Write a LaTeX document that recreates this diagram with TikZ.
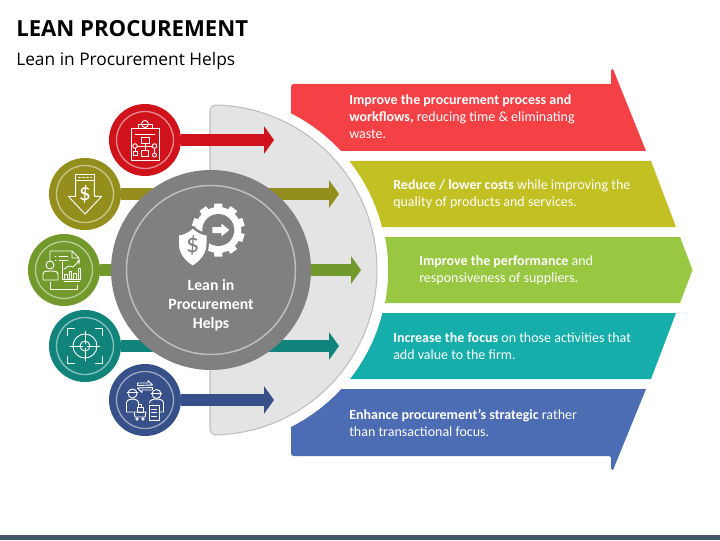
\documentclass[tikz,border=0pt]{standalone}
\usepackage{fontspec}
\setmainfont{Carlito}
\newfontfamily\headfont{Open Sans}
\usetikzlibrary{arrows.meta}

\definecolor{ring_red}{HTML}{D0121B}
\definecolor{ring_olive}{HTML}{948F1C}
\definecolor{ring_green}{HTML}{72992B}
\definecolor{ring_teal}{HTML}{10837B}
\definecolor{ring_blue}{HTML}{375089}
\definecolor{band_red}{HTML}{F34146}
\definecolor{band_olive}{HTML}{C3C024}
\definecolor{band_green}{HTML}{98C741}
\definecolor{band_teal}{HTML}{16AEAB}
\definecolor{band_blue}{HTML}{4C6CB4}
\definecolor{core_gray}{HTML}{808080}

\begin{document}
\begin{tikzpicture}[x=0.75pt,y=0.75pt,
    ring_node/.style={circle,inner sep=0pt,minimum size=54pt},
    band_text/.style={anchor=west,inner sep=0pt,align=left,text=white,font=\fontsize{10.5}{12.75}\selectfont},
    link_line/.style={line width=9pt,-{Triangle[length=7.5pt,width=20.5pt]}},
    halo_line/.style={draw=white,draw opacity=0.5,line width=1pt},
    icon_line/.style={draw=white,line width=0.7pt,line join=round,line cap=round},
    dollar_text/.style={inner sep=0pt,text=white,font=\fontsize{18}{18}\selectfont}]

    \useasboundingbox (0,0) rectangle (720,540);
    \fill[white] (0,0) rectangle (720,540);
    \fill[fill={rgb,255:red,68;green,84;blue,106}] (0,0) rectangle (720,5);

    \node[anchor=west,inner sep=0pt,font=\headfont\bfseries\fontsize{16.6}{20}\selectfont] (title) at (16,511) {LEAN PROCUREMENT};
    \node[anchor=west,inner sep=0pt,font=\headfont\fontsize{13}{15}\selectfont] (subtitle) at (16,479) {Lean in Procurement Helps};

    % half disc
    \draw[fill={rgb,255:red,228;green,228;blue,228},draw={rgb,255:red,190;green,190;blue,190},line width=0.8pt]
        (210,111) -- (210,429) arc[start angle=180,end angle=90,radius=6]
        arc[start angle=88.6,end angle=-88.6,radius=165]
        arc[start angle=270,end angle=180,radius=6] -- cycle;

    % bands
    \fill[band_red] (291,427) [rounded corners=2pt] -- (291,456) [sharp corners] -- (611,456) [rounded corners=1.2pt] -- (611,471) -- (613,471) [sharp corners] -- (646,389) -- (341,389)
        arc[start angle=42.7,end angle=63.3,radius=175.5] -- cycle;
    \fill[band_olive] (350,379) -- (651,379) -- (676,313) -- (382,313)
        arc[start angle=14.2,end angle=38.3,radius=175.5] -- cycle;
    \fill[band_green] (385,303) -- (680,303) -- (692.5,270) -- (680,237) -- (385,237)
        arc[start angle=-10.9,end angle=10.9,radius=175.5] -- cycle;
    \fill[band_teal] (382,227) -- (676,227) -- (651,161) -- (350,161)
        arc[start angle=-38.3,end angle=-14.2,radius=175.5] -- cycle;
    \fill[band_blue] (341,151) -- (646,151) -- (613,70) [rounded corners=1.2pt] -- (611,70) -- (611,84) [rounded corners=2pt] -- (291,84) [sharp corners] -- (291,113)
        arc[start angle=-63.3,end angle=-42.7,radius=175.5] -- cycle;

    \node[band_text] (text1) at (349,423) {\textbf{Improve the procurement process and}\\\textbf{workflows,} reducing time \& eliminating\\waste.};
    \node[band_text] (text2) at (393,346) {\textbf{Reduce / lower costs} while improving the\\quality of products and services.};
    \node[band_text] (text3) at (419,270) {\textbf{Improve the performance} and\\responsiveness of suppliers.};
    \node[band_text] (text4) at (393,194) {\textbf{Increase the focus} on those activities that\\add value to the firm.};
    \node[band_text] (text5) at (349,117) {\textbf{Enhance procurement’s strategic} rather\\than transactional focus.};

    % rings and arrows
    \node[ring_node,fill=ring_red] (ring1) at (145,400) {};
    \node[ring_node,fill=ring_olive] (ring2) at (85,346) {};
    \node[ring_node,fill=ring_green] (ring3) at (64,270) {};
    \node[ring_node,fill=ring_teal] (ring4) at (85,194) {};
    \node[ring_node,fill=ring_blue] (ring5) at (145,140) {};

    \coordinate (tip1) at (274,400);
    \coordinate (tip2) at (339,346);
    \coordinate (tip3) at (361,270);
    \coordinate (tip4) at (339,194);
    \coordinate (tip5) at (274,140);

    \draw[link_line,ring_red] (ring1) -- (tip1);
    \draw[link_line,ring_olive] (ring2) -- (tip2);
    \draw[link_line,ring_green] (ring3) -- (tip3);
    \draw[link_line,ring_teal] (ring4) -- (tip4);
    \draw[link_line,ring_blue] (ring5) -- (tip5);

    \draw[halo_line] (ring1) circle[radius=28.5];
    \draw[halo_line] (ring2) circle[radius=28.5];
    \draw[halo_line] (ring3) circle[radius=28.5];
    \draw[halo_line] (ring4) circle[radius=28.5];
    \draw[halo_line] (ring5) circle[radius=28.5];

    % clipboard
    \begin{scope}[shift={(145,400)},icon_line]
        \draw (-7,12) -- (-7,15.5) -- (7,15.5) -- (7,12) (-14,12) rectangle (14,-20);
        \draw (0,16) circle[radius=3.5];
        \draw (-10,6) -- (10,6);
        \draw (-4,2.3) rectangle (4,-3.3);
        \draw (0,-3.3) -- (0,-10);
        \draw (-7.5,-6) -- (7.2,-6);
        \draw (-10,-6) circle[radius=2.3] (9.5,-6) circle[radius=2.3];
        \draw (-10,-8.3) -- (-10,-11) (9.5,-8.3) -- (9.5,-13);
        \draw (-12,-11) rectangle (-8,-15);
        \draw (-3.5,-10) rectangle (3,-16);
        \draw (9.5,-15) circle[radius=2];
    \end{scope}

    % dollar arrow
    \begin{scope}[shift={(85,346)},icon_line]
        \draw (-9.3,14) rectangle (9.3,20);
        \draw (-9.3,14) -- (-9.3,-2.3) -- (-16.7,-2.3) -- (0,-20) -- (16.7,-2.3) -- (9.3,-2.3) -- (9.3,14);
        \draw[dash pattern=on 1.5pt off 1.5pt] (-6.5,17) -- (7,17);
        \node[dollar_text] (dollar2) at (0,0) {\$};
    \end{scope}

    % report and chart
    \begin{scope}[shift={(64,270)},icon_line]
        \draw (-14,9) -- (-14,19) -- (8,19) -- (15,12) -- (15,6) (8,19) -- (8,12) -- (15,12);
        \draw (-9,14) -- (-8,14) (-5,14) -- (4,14) (-9,10) -- (-8,10) (-5,10) -- (4,10);
        \draw (-13.3,-12) -- (-13.3,-19) -- (13.7,-19) -- (13.7,-15);
        \draw (0,-11.7) -- (16,-11.7);
        \draw (-14,5) circle[radius=4];
        \draw (-21,-10) -- (-21,-4) .. controls (-21,-1) and (-17,-1) .. (-14,-1) .. controls (-11,-1) and (-6,-1) .. (-6,-4) -- (-6,-10) -- cycle;
        \draw (-1.3,8) -- (-1.3,-9.7) -- (17,-9.7);
        \draw (0.5,-9.7) rectangle (3,-4);
        \draw (5,-9.7) rectangle (7.5,-1);
        \draw (9.5,-9.7) rectangle (12,-3);
        \draw (14,-9.7) rectangle (16.5,2);
        \draw[-{Stealth[length=2.5pt,width=2.5pt]}] (0,1) -- (5,4) -- (9,3) -- (16,10);
    \end{scope}

    % target
    \begin{scope}[shift={(85,194)},icon_line]
        \draw (0,0) circle[radius=12] (0,0) circle[radius=5];
        \draw (-15,0) -- (-2,0) (2,0) -- (15,0) (0,15) -- (0,2) (0,-2) -- (0,-15);
        \draw (-17.7,10.5) -- (-17.7,17.5) -- (-10.5,17.5);
        \draw (17.7,10.5) -- (17.7,17.5) -- (10.5,17.5);
        \draw (-17.7,-10.5) -- (-17.7,-17.5) -- (-10.5,-17.5);
        \draw (17.7,-10.5) -- (17.7,-17.5) -- (10.5,-17.5);
    \end{scope}

    % buyers and suppliers
    \begin{scope}[shift={(145,140)},icon_line]
        \draw (-7.5,14.5) -- (-7.5,17) -- (3,17) -- (3,19.5) -- (7.5,15) -- cycle;
        \draw (7.5,12.5) -- (7.5,10) -- (-3,10) -- (-3,7.5) -- (-7.5,12) -- cycle;
        \draw (-12.5,6.5) circle[radius=4.5] (11.5,6) circle[radius=4.5];
        \draw (-18,7.5) -- (-7,7.5) (6,7) -- (17,7);
        \draw (-12,-12) -- (-18.5,-12) -- (-18.5,-3) .. controls (-18.5,0) and (-15,1) .. (-12.5,1) .. controls (-10,1) and (-6.5,0) .. (-6.5,-3) -- (-6.5,-7);
        \draw (4.5,-3) .. controls (4.5,0) and (8,1) .. (11.5,1) .. controls (15,1) and (18.5,0) .. (18.5,-3) -- (18.5,-12) -- (14,-12);
        \draw (-11,-12) -- (1,-12) -- (0,-17) -- (-10,-17) -- cycle;
        \draw (-8,-19) circle[radius=1.2] (-2,-19) circle[radius=1.2];
        \draw (-8,-12) rectangle (-2,-7) (-6.5,-7) rectangle (-3.5,-4);
        \draw[fill=ring_blue] (4,-5) rectangle (14,-20);
        \draw (6.5,-9) -- (11.5,-9) (6.5,-12.5) -- (11.5,-12.5) (6.5,-16) -- (11.5,-16);
    \end{scope}

    % central circle
    \node[circle,fill=core_gray,inner sep=0pt,minimum size=150pt] (core) at (211,270) {};
    \draw[halo_line,line width=1.1pt] (core) circle[radius=84.5];

    \begin{scope}[shift={(218.3,310)}]
        \fill[white] (0,0) circle[radius=23];
        \foreach \a in {0,36,...,324}
            \fill[white,rotate=\a] (-5,0) -- (-4,26.5) -- (4,26.5) -- (5,0) -- cycle;
        \fill[core_gray] (0,0) circle[radius=16];
        \fill[white] (-6,3) -- (3,3) -- (3,6.5) -- (11,0) -- (3,-6.5) -- (3,-3) -- (-6,-3) -- cycle;
    \end{scope}
    \begin{scope}[shift={(192.7,293)}]
        \draw[fill=white,draw=core_gray,line width=1.8pt,line join=round] (0,20) .. controls (4,16) and (10,13) .. (15,12.5) -- (15,3) .. controls (15,-8) and (8,-15) .. (0,-20) .. controls (-8,-15) and (-15,-8) .. (-15,3) -- (-15,12.5) .. controls (-10,13) and (-4,16) .. (0,20) -- cycle;
        \node[inner sep=0pt,text=core_gray,font=\fontsize{20}{20}\selectfont] (dollar0) at (0,1) {\$};
    \end{scope}

    \node[align=center,inner sep=0pt,text=white,font=\bfseries\fontsize{11.8}{14.25}\selectfont] (core_text) at (211,234.5) {Lean in\\Procurement\\Helps};

\end{tikzpicture}
\end{document}
